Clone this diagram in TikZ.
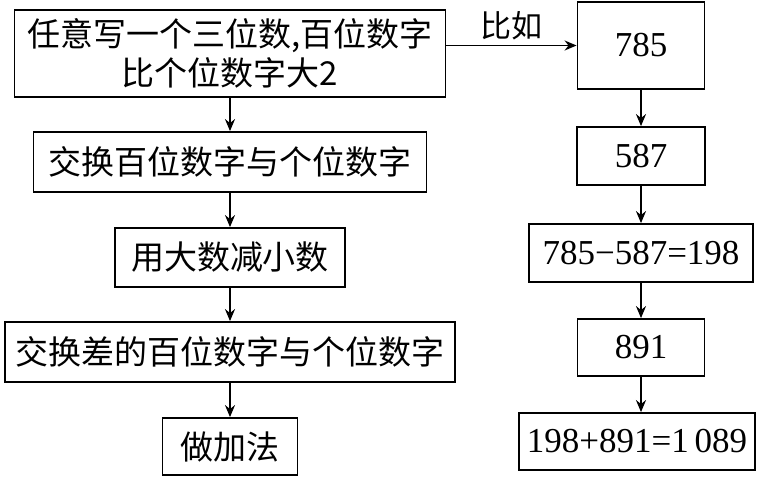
\documentclass[tikz,border=0pt]{standalone}
\usepackage{fontspec}
\setmainfont{Liberation Serif}
\newfontfamily\cjk{Noto Sans CJK SC}
\newfontfamily\fcdigits{Liberation Serif}
\usetikzlibrary{arrows.meta,positioning}
\tikzset{
  fcstep/.style={
    draw=black, fill=white, line width=1.8pt,
    inner sep=0pt, align=center, font=\cjk\fontsize{33}{39}\selectfont
  },
  fcnum/.style={fcstep,font=\fcdigits\fontsize{35}{40}\selectfont},
  fcedge/.style={-{Stealth[length=12pt,width=10pt]},line width=1.6pt},
  fclabel/.style={font=\cjk\fontsize{31}{36}\selectfont,inner sep=5pt}
}
\begin{document}
\begin{tikzpicture}[x=1pt,y=-1pt]
  \useasboundingbox (0,0) rectangle (764,477);
  % steps of the procedure (left column)
  \node[fcstep,minimum width=431pt,minimum height=87pt] (b1) at (230,53.5) {任意写一个三位数,百位数字\\比个位数字大2};
  \node[fcstep,minimum width=393pt,minimum height=60pt] (b2) at (230,162) {交换百位数字与个位数字};
  \node[fcstep,minimum width=230pt,minimum height=59pt] (b3) at (230,257.5) {用大数减小数};
  \node[fcstep,minimum width=450pt,minimum height=60pt] (b4) at (230,352) {交换差的百位数字与个位数字};
  \node[fcstep,minimum width=135pt,minimum height=57pt] (b5) at (230,446.5) {做加法};
  % worked example (right column)
  \node[fcnum,minimum width=127pt,minimum height=87pt] (r1) at (641,45.5) {785};
  \node[fcnum,minimum width=128pt,minimum height=58pt] (r2) at (641,156) {587};
  \node[fcnum,minimum width=224pt,minimum height=58pt] (r3) at (641,253) {785−587=198};
  \node[fcnum,minimum width=127pt,minimum height=57pt] (r4) at (641,347.5) {891};
  \node[fcnum,minimum width=236pt,minimum height=57pt] (r5) at (637,441.5) {198+891=1\,089};
  % connectors
  \draw[fcedge] (b1) -- (b2);
  \draw[fcedge] (b2) -- (b3);
  \draw[fcedge] (b3) -- (b4);
  \draw[fcedge] (b4) -- (b5);
  \draw[fcedge] (b1.east |- r1) -- node[fclabel,above] {比如} (r1);
  \draw[fcedge] (r1) -- (r2);
  \draw[fcedge] (r2) -- (r3);
  \draw[fcedge] (r3) -- (r4);
  \draw[fcedge] (r4.south) -- (r4.south |- r5.north);
\end{tikzpicture}
\end{document}
